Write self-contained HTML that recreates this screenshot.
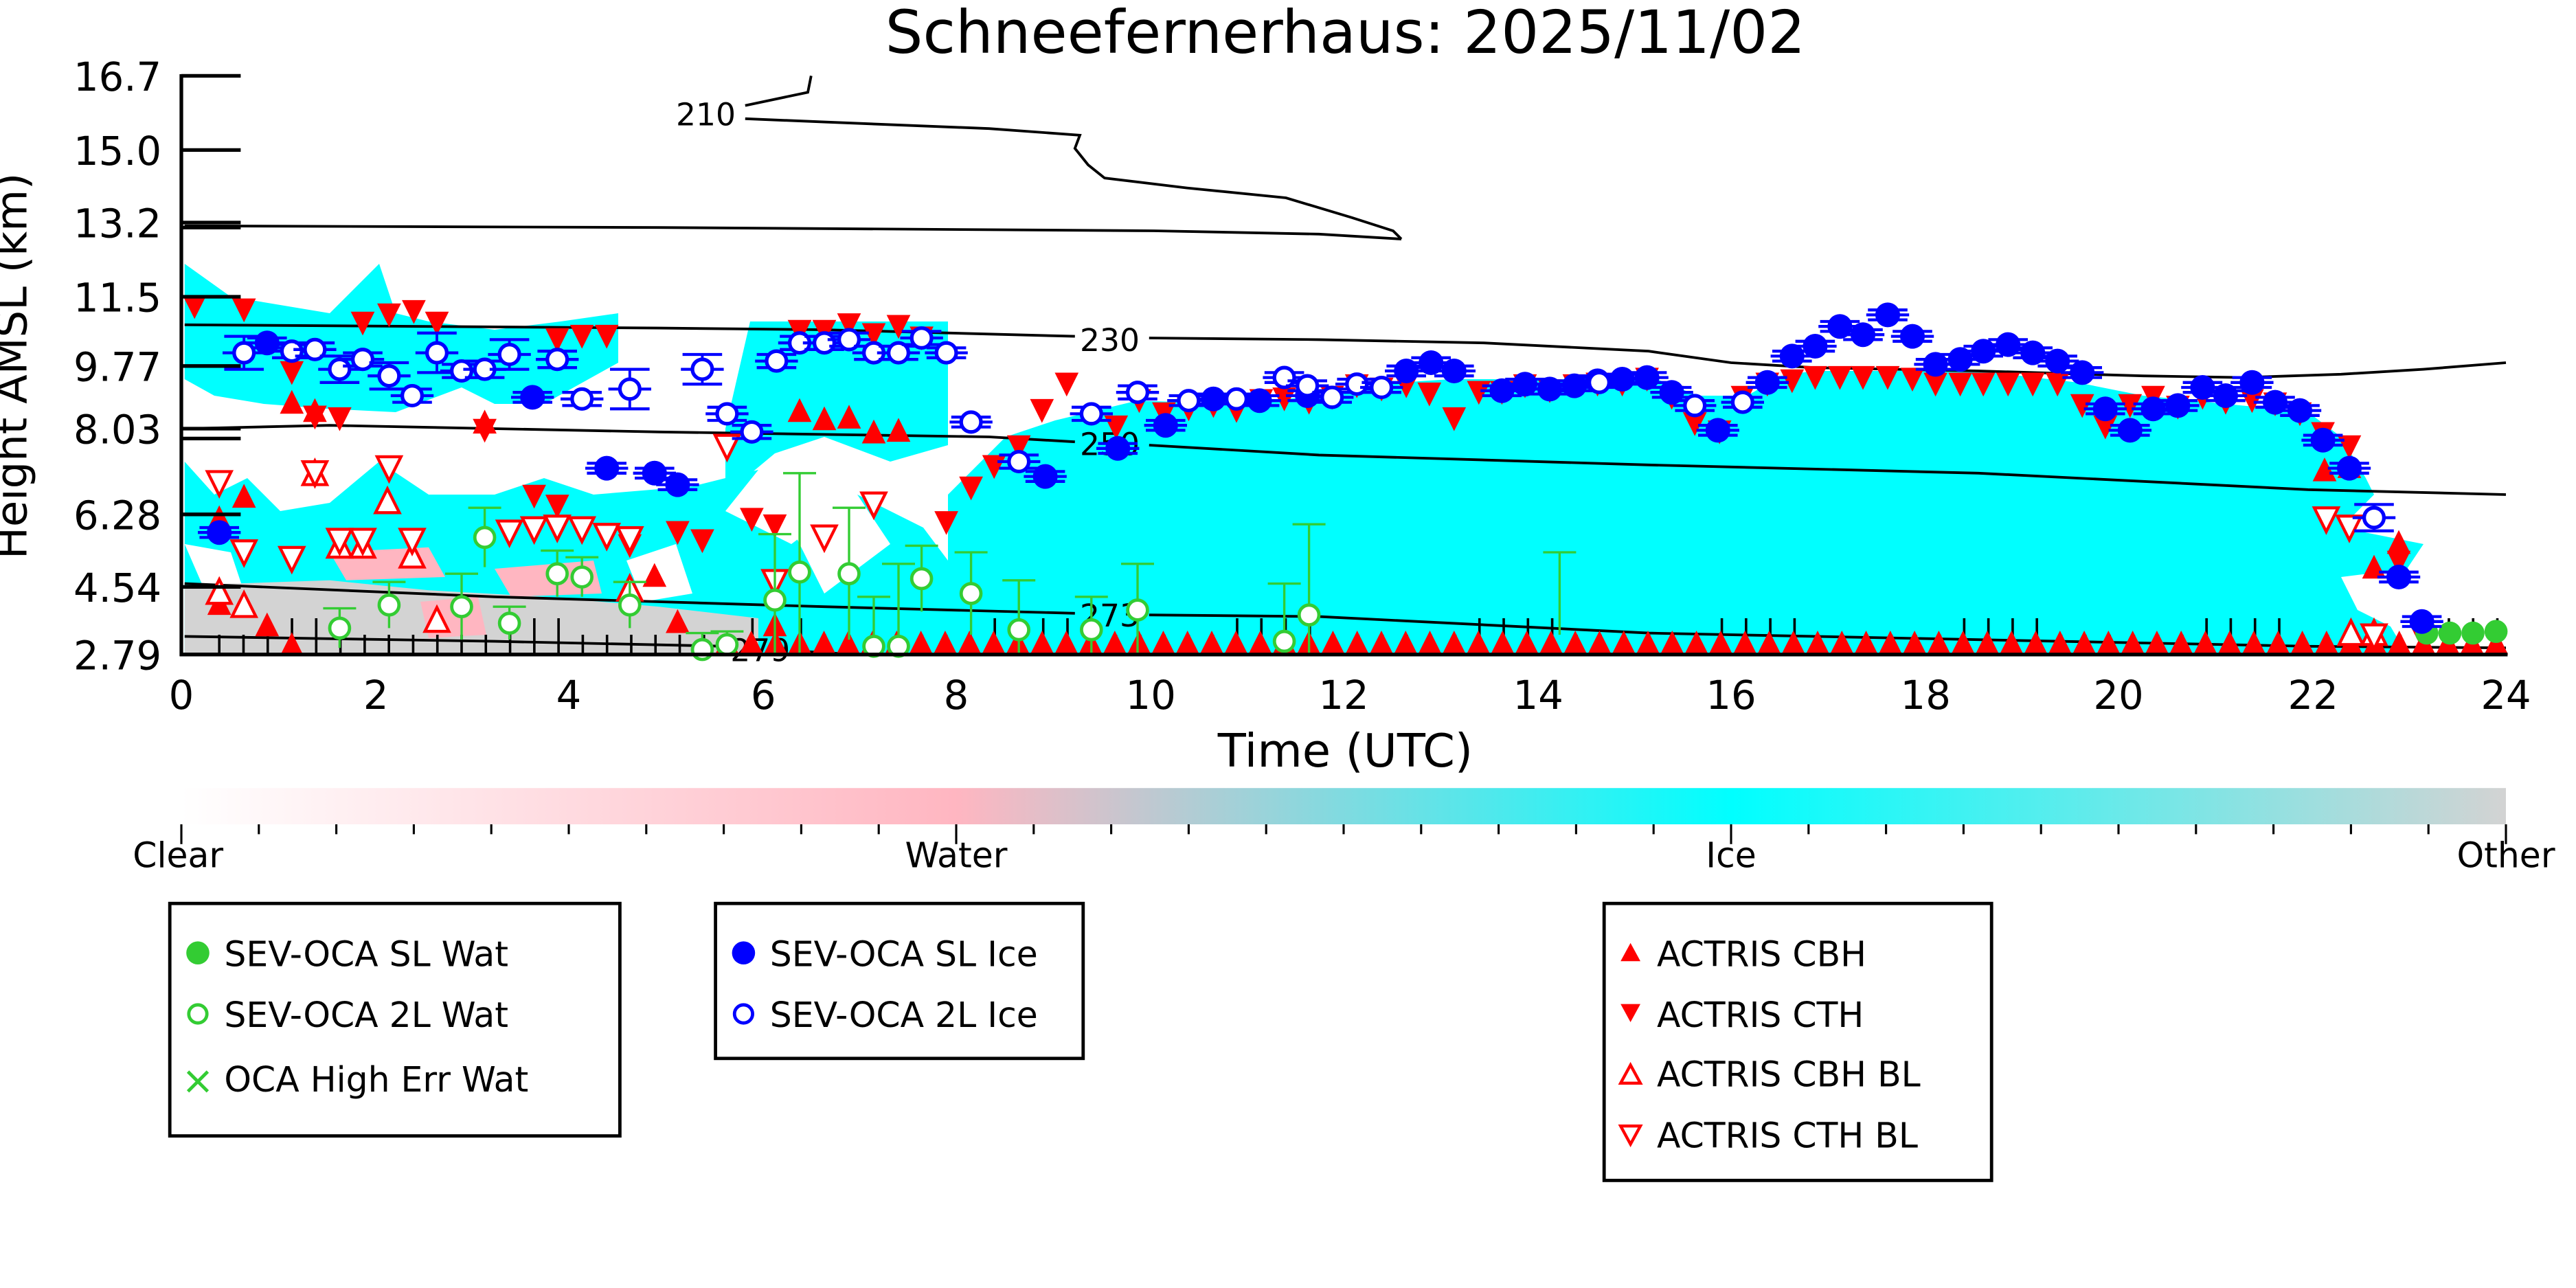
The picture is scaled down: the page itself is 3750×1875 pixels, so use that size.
<!DOCTYPE html>
<html><head><meta charset="utf-8"><style>
html,body{margin:0;padding:0;background:#fff;}
svg{display:block;}
text{font-family:"DejaVu Sans","Liberation Sans",sans-serif;}
</style></head><body>
<svg id="s" width="3750" height="1875" viewBox="0 0 1562.5 781.25" xmlns="http://www.w3.org/2000/svg">
<defs>
<linearGradient id="cb" x1="0" x2="1" y1="0" y2="0">
<stop offset="0" stop-color="#ffffff"/><stop offset="0.333" stop-color="#ffb6c1"/>
<stop offset="0.667" stop-color="#00ffff"/><stop offset="1" stop-color="#d3d3d3"/>
</linearGradient>
<clipPath id="pc"><rect x="111" y="46" width="1409" height="351"/></clipPath>
</defs>
<rect width="1562.5" height="781.25" fill="#fff"/>
<g clip-path="url(#pc)">
<polygon fill="#00ffff" points="112,160 140,180 200,190 230,160 240,190 260,195 300,200 340,195 375,190 375,220 330,245 300,245 280,235 240,250 200,248 160,245 130,240 112,230"/>
<polygon fill="#00ffff" points="112,280 130,300 150,290 170,310 200,305 230,280 260,300 300,300 330,290 360,300 420,295 460,285 440,310 480,330 520,300 560,320 575,340 575,397 112,397"/>
<polygon fill="#00ffff" points="440,260 455,195 575,195 575,270 540,280 500,265 470,275 440,300"/>
<polygon fill="#00ffff" points="575,397 575,300 590,285 610,265 640,255 690,243 750,245 800,240 850,232 880,230 950,230 1000,228 1030,240 1060,240 1080,228 1100,225 1200,225 1260,232 1300,240 1400,250 1420,265 1435,290 1440,300 1420,320 1470,330 1460,345 1420,350 1430,370 1450,380 1460,397"/>
<polygon fill="#fff" points="112,330 140,335 150,365 125,360"/>
<polygon fill="#fff" points="380,340 410,330 420,360 390,365"/>
<polygon fill="#fff" points="480,320 520,300 540,330 500,360"/>
<polygon fill="#d3d3d3" points="112,355 200,352 260,358 330,362 400,368 460,375 460,397 112,397"/>
<polygon fill="#ffb6c1" points="200,335 260,332 270,350 210,352"/>
<polygon fill="#ffb6c1" points="300,345 360,340 365,360 310,362"/>
<polygon fill="#ffb6c1" points="255,365 290,362 295,385 260,387"/>
</g>
<g id="contours" fill="none" stroke="#000" stroke-width="1.6">
<polyline points="112,137 400,138 700,140 800,142 850,145"/>
<polyline points="452,72 500,74 600,78 655,82 652,90 660,100 670,108 720,114 780,120 820,132 845,140 850,145"/>
<polyline points="452,64 490,56 492,46"/>
<polyline points="112,197 400,199 500,200 652,204"/>
<polyline points="697,205 800,206 900,208 1000,213 1050,220 1100,223 1200,225 1300,228 1360,229 1420,227 1470,224 1520,220"/>
<polyline points="112,260 200,258 400,262 600,265 652,268"/>
<polyline points="697,270 800,276 1000,282 1200,287 1300,292 1400,297 1520,300"/>
<polyline points="112,354 300,362 500,368 652,372"/>
<polyline points="697,373 800,374 1000,384 1200,388 1400,392 1520,393"/>
<polyline points="112,386 300,389 440,392"/>
<polyline points="485,395 520,397"/>
</g>
<g font-size="19" fill="#000">
<text x="410" y="76">210</text>
<text x="655" y="213">230</text>
<text x="655" y="276">250</text>
<text x="655" y="380">273</text>
<text x="443" y="401">279</text>
</g>
<g id="marks"></g>
<g stroke="#000" stroke-width="2.2">
<line x1="110" y1="45" x2="110" y2="398"/>
<line x1="109" y1="397" x2="1521" y2="397"/>
</g>
<g id="ticks" stroke="#000" stroke-width="2.2"></g>
<g font-size="24" fill="#000" text-anchor="end">
<text x="98" y="55">16.7</text>
<text x="98" y="100">15.0</text>
<text x="98" y="144">13.2</text>
<text x="98" y="189">11.5</text>
<text x="98" y="231">9.77</text>
<text x="98" y="269">8.03</text>
<text x="98" y="321">6.28</text>
<text x="98" y="365">4.54</text>
<text x="98" y="406">2.79</text>
</g>
<g font-size="24" fill="#000" text-anchor="middle">
<text x="110" y="430">0</text><text x="228" y="430">2</text><text x="345" y="430">4</text>
<text x="463" y="430">6</text><text x="580" y="430">8</text><text x="698" y="430">10</text>
<text x="815" y="430">12</text><text x="933" y="430">14</text><text x="1050" y="430">16</text>
<text x="1168" y="430">18</text><text x="1285" y="430">20</text><text x="1403" y="430">22</text>
<text x="1520" y="430">24</text>
</g>
<text x="816" y="465" font-size="28" text-anchor="middle">Time (UTC)</text>
<text x="816" y="32" font-size="36" text-anchor="middle">Schneefernerhaus: 2025/11/02</text>
<text transform="translate(16,222) rotate(-90)" font-size="26" text-anchor="middle">Height AMSL (km)</text>
<rect x="110" y="478" width="1410" height="22" fill="url(#cb)"/>
<g id="cbt" stroke="#000" stroke-width="1.3"></g>
<g font-size="21" fill="#000" text-anchor="middle">
<text x="108" y="526">Clear</text><text x="580" y="526">Water</text>
<text x="1050" y="526">Ice</text><text x="1520" y="526">Other</text>
</g>
<g fill="none" stroke="#000" stroke-width="2">
<rect x="103" y="548" width="273" height="141"/>
<rect x="434" y="548" width="223" height="94"/>
<rect x="973" y="548" width="235" height="168"/>
</g>
<g font-size="21" fill="#000">
<text x="136" y="586">SEV-OCA SL Wat</text>
<text x="136" y="623">SEV-OCA 2L Wat</text>
<text x="136" y="662">OCA High Err Wat</text>
<text x="467" y="586">SEV-OCA SL Ice</text>
<text x="467" y="623">SEV-OCA 2L Ice</text>
<text x="1005" y="586">ACTRIS CBH</text>
<text x="1005" y="623">ACTRIS CTH</text>
<text x="1005" y="659">ACTRIS CBH BL</text>
<text x="1005" y="696">ACTRIS CTH BL</text>
</g>
<circle cx="120" cy="578" r="7" fill="#33cc33"/>
<circle cx="120" cy="615" r="5.5" fill="#fff" stroke="#33cc33" stroke-width="2"/>
<path d="M114,650 L126,662 M126,650 L114,662" stroke="#33cc33" stroke-width="2"/>
<circle cx="451" cy="578" r="7" fill="#0000ff"/>
<circle cx="451" cy="615" r="5.5" fill="#fff" stroke="#0000ff" stroke-width="2"/>
<polygon points="989,572 995,583 983,583" fill="#ff0000"/>
<polygon points="983,609 995,609 989,620" fill="#ff0000"/>
<polygon points="989,646 995,657 983,657" fill="#fff" stroke="#ff0000" stroke-width="1.8"/>
<polygon points="983,683 995,683 989,694" fill="#fff" stroke="#ff0000" stroke-width="1.8"/>
<script>
(function(){
var NS="http://www.w3.org/2000/svg";
function el(p,t,a){var e=document.createElementNS(NS,t);for(var k in a)e.setAttribute(k,a[k]);p.appendChild(e);return e;}
var M=document.getElementById('marks');
var T=document.getElementById('ticks');
var yt=[46,91,135,138,180,222,260,266,312,356,397];
yt.forEach(function(y){el(T,'line',{x1:110,y1:y,x2:146,y2:y});});
var C=document.getElementById('cbt');
for(var i=0;i<=30;i++){var x=110+i*1410/30;el(C,'line',{x1:x,y1:500,x2:x,y2:(i%10==0?512:506)});}
for(var x=133;x<1520;x+=14.7){var h=(Math.round(x)%3==0)?22:12;el(M,'line',{x1:x,y1:397-h,x2:x,y2:397,stroke:'#000','stroke-width':1.5});}
var S=8.5;
function up(x,y,f){el(M,'polygon',{points:(x)+','+(y-S)+' '+(x+S*0.85)+','+(y+S*0.7)+' '+(x-S*0.85)+','+(y+S*0.7),fill:f?'#ff0000':'#fff',stroke:'#ff0000','stroke-width':f?0:1.8});}
function dn(x,y,f){el(M,'polygon',{points:(x-S*0.85)+','+(y-S*0.7)+' '+(x+S*0.85)+','+(y-S*0.7)+' '+(x)+','+(y+S),fill:f?'#ff0000':'#fff',stroke:'#ff0000','stroke-width':f?0:1.8});}
for(var x=441;x<1516;x+=14.7)up(x,391,true);
[[133,315],[148,302],[177,245],[191,250],[294,257],[397,350],[411,378],[485,250],[500,255],[515,254],[530,263],[545,262],[470,380],[1410,286],[1425,284],[1440,345],[1455,330],[133,367],[162,380],[177,392]].forEach(function(p){up(p[0],p[1],true);});
var cth=[[118,185],[148,187],[177,225],[191,252],[206,253],[220,195],[236,190],[251,188],[265,195],[294,260],[338,205],[353,203],[368,203],[324,300],[338,306],[382,330],[411,322],[426,327],[456,314],[470,318],[485,200],[500,200],[515,196],[530,202],[545,197],[559,204],[574,316],[589,295],[603,282],[618,270],[632,248],[647,232],[677,258],[691,242],[706,250],[721,247],[736,245],[750,248],[765,242],[779,241],[794,243],[808,240],[823,233],[838,235],[853,233],[867,238],[882,253],[897,237],[911,237],[925,233],[940,236],[955,233],[969,232],[984,232],[999,229],[1014,240],[1028,256],[1043,261],[1057,240],[1072,232],[1087,230],[1101,228],[1116,228],[1130,228],[1145,228],[1160,229],[1174,232],[1189,232],[1203,232],[1218,232],[1233,232],[1248,232],[1263,245],[1277,258],[1292,245],[1306,240],[1321,246],[1336,240],[1350,243],[1366,242],[1380,244],[1395,250],[1409,262],[1425,270],[1455,340],[1469,385]];
cth.forEach(function(p){dn(p[0],p[1],true);});
[[133,360],[148,368],[206,332],[220,332],[191,288],[235,305],[250,338],[265,377],[382,358],[1426,385],[1440,385]].forEach(function(p){up(p[0],p[1],false);});
[[133,292],[148,334],[177,338],[191,286],[206,327],[220,327],[236,283],[250,327],[309,322],[324,320],[338,319],[353,320],[368,324],[382,326],[441,270],[470,352],[500,325],[530,305],[1411,314],[1425,319],[1440,385]].forEach(function(p){dn(p[0],p[1],false);});
var g=[[206,381,12],[236,367,14],[280,368,20],[294,326,18],[309,378,10],[338,348,14],[353,350,12],[382,367,14],[426,394,10],[441,391,8],[470,364,40],[485,347,60],[515,348,40],[530,392,30],[545,392,50],[559,351,20],[589,360,25],[618,382,30],[662,382,20],[690,370,28],[779,389,35],[794,373,55],[946,360,25]];
g.forEach(function(p){var x=p[0],y=p[1],e=p[2];
el(M,'line',{x1:x,y1:y-e,x2:x,y2:Math.min(397,y+e),stroke:'#33cc33','stroke-width':1.4});
el(M,'line',{x1:x-10,y1:y-e,x2:x+10,y2:y-e,stroke:'#33cc33','stroke-width':1.4});
if(p[0]!=946)el(M,'circle',{cx:x,cy:y,r:6,fill:'#fff',stroke:'#33cc33','stroke-width':2});});
[[1472,384],[1486,384],[1500,384],[1514,383]].forEach(function(p){el(M,'circle',{cx:p[0],cy:p[1],r:7,fill:'#33cc33'});});
function eb(x,y,e){el(M,'line',{x1:x,y1:y-e,x2:x,y2:y+e,stroke:'#0000ff','stroke-width':1.6});
el(M,'line',{x1:x-12,y1:y-e,x2:x+12,y2:y-e,stroke:'#0000ff','stroke-width':1.8});
el(M,'line',{x1:x-12,y1:y+e,x2:x+12,y2:y+e,stroke:'#0000ff','stroke-width':1.8});
el(M,'line',{x1:x-13,y1:y,x2:x+13,y2:y,stroke:'#0000ff','stroke-width':1.8});}
var bf=[[133,323],[162,208],[323,241],[368,284],[397,287],[411,294],[634,289],[678,272],[707,258],[736,242],[764,243],[793,240],[853,225],[868,220],[882,225],[911,237],[925,233],[940,236],[955,234],[969,231],[984,230],[999,229],[1014,238],[1042,261],[1072,232],[1087,216],[1101,210],[1116,198],[1130,203],[1145,191],[1160,204],[1174,221],[1189,218],[1203,213],[1218,209],[1233,214],[1248,219],[1263,226],[1277,248],[1292,261],[1306,248],[1321,246],[1336,235],[1350,240],[1366,232],[1380,244],[1395,249],[1409,267],[1425,284],[1455,350],[1469,377]];
bf.forEach(function(p){eb(p[0],p[1],3);el(M,'circle',{cx:p[0],cy:p[1],r:7.5,fill:'#0000ff'});});
var bo=[[148,214,10],[177,213,4],[191,212,4],[206,224,8],[220,218,4],[236,228,8],[250,240,4],[265,214,12],[280,225,4],[294,224,5],[309,215,9],[338,218,5],[353,242,4],[382,236,12],[426,224,9],[441,251,4],[456,262,4],[471,219,4],[485,208,4],[500,208,4],[515,206,4],[530,214,4],[545,214,4],[559,205,4],[574,214,3],[589,256,3],[618,280,4],[662,251,4],[690,238,4],[721,243,3],[750,242,3],[779,229,3],[793,234,3],[808,241,3],[823,233,3],[838,235,3],[970,232,3],[1028,246,3],[1057,244,3],[1440,314,8]];
bo.forEach(function(p){eb(p[0],p[1],p[2]);el(M,'circle',{cx:p[0],cy:p[1],r:6,fill:'#fff',stroke:'#0000ff','stroke-width':2.2});});
})();
</script>
</svg>
</body></html>
